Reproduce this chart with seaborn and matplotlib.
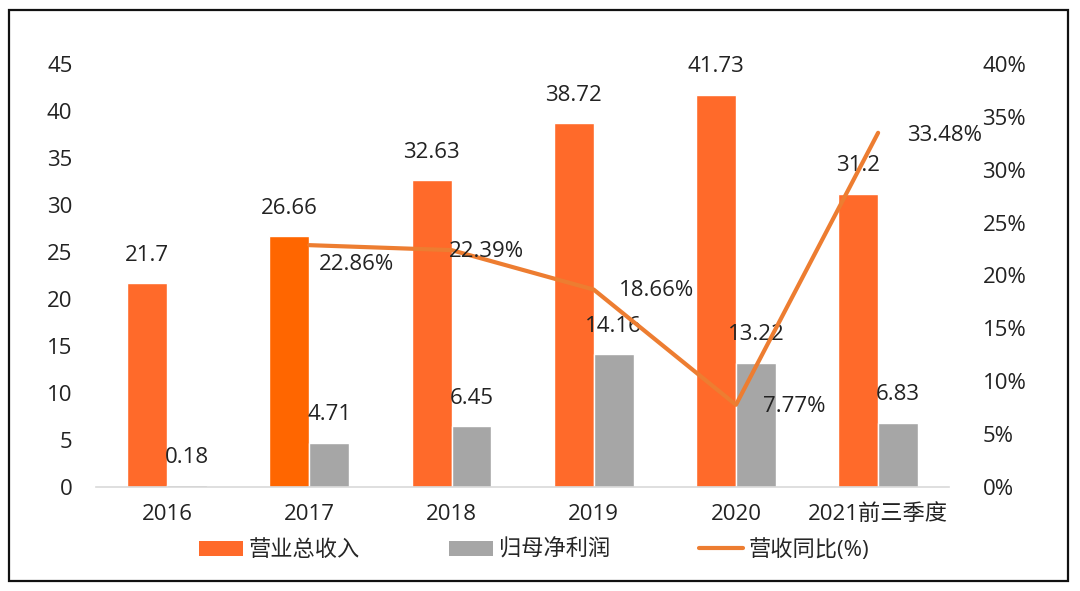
import matplotlib
matplotlib.use("Agg")
import matplotlib.pyplot as plt
import seaborn as sns
import pandas as pd
import numpy as np
from matplotlib.patches import Patch, Rectangle
from matplotlib.lines import Line2D

categories = ["2016", "2017", "2018", "2019", "2020", "2021前三季度"]
revenue = [21.7, 26.66, 32.63, 38.72, 41.73, 31.2]
net_profit = [0.18, 4.71, 6.45, 14.16, 13.22, 6.83]
growth_cats = ["2017", "2018", "2019", "2020", "2021前三季度"]
growth = [22.86, 22.39, 18.66, 7.77, 33.48]
revenue_label = "营业总收入"
profit_label = "归母净利润"
growth_label = "营收同比(%)"
left_ticks = [0, 5, 10, 15, 20, 25, 30, 35, 40, 45]
right_ticks = [0, 5, 10, 15, 20, 25, 30, 35, 40]

sns.set_theme(style="white")
plt.rcParams["font.family"] = ["Open Sans", "Noto Sans CJK SC", "DejaVu Sans"]

C_OR = "#FF6A2A"
C_OR17 = "#FF6600"
C_GR = "#A6A6A6"
C_LN = "#ED7D31"
FS = 16

df = pd.DataFrame({
    "cat": categories * 2,
    "val": revenue + net_profit,
    "series": [revenue_label] * len(categories) + [profit_label] * len(categories),
})

fig = plt.figure(figsize=(10.8, 5.91), dpi=100)
ax = fig.add_axes([0.0889, 0.176, 0.79, 0.716])
sns.barplot(data=df, x="cat", y="val", hue="series", order=categories,
            hue_order=[revenue_label, profit_label],
            palette=[C_OR, C_GR], width=0.56, saturation=1, ax=ax, legend=False)

# 2017 revenue bar in a slightly purer orange
ax.patches[categories.index("2017")].set_facecolor(C_OR17)

ax.set_ylim(0, 45)
ax.set_yticks(left_ticks)
ax.set_xlim(-0.5, len(categories) - 0.5)
ax.set_xlabel("")
ax.set_ylabel("")
for s in ["top", "right", "left"]:
    ax.spines[s].set_visible(False)
ax.spines["bottom"].set_color("#D9D9D9")
ax.spines["bottom"].set_linewidth(1.2)
ax.tick_params(axis="both", length=0, labelsize=FS, colors="#222222")
ax.tick_params(axis="y", pad=17)
ax.tick_params(axis="x", pad=12)

# bar labels
for p in ax.patches:
    h = p.get_height()
    if np.isnan(h):
        continue
    ax.annotate(f"{h:g}", (p.get_x() + p.get_width() / 2, h),
                xytext=(0, 20), textcoords="offset points",
                ha="center", va="center", fontsize=FS, color="#222222")

ax2 = ax.twinx()
gx = [categories.index(c) for c in growth_cats]
sns.lineplot(x=gx, y=growth, ax=ax2, color=C_LN, linewidth=3.0, legend=False)
ax2.set_ylim(0, 40)
ax2.set_yticks(right_ticks)
ax2.set_yticklabels([f"{t}%" for t in right_ticks])
for s in ["top", "right", "left", "bottom"]:
    ax2.spines[s].set_visible(False)
ax2.tick_params(axis="y", length=0, labelsize=FS, colors="#222222", pad=24)
ax2.grid(False)
ax.grid(False)

label_offsets = [(34, -14), (25, -1), (45, -1), (42, -1), (48, -2)]
for x, v, off in zip(gx, growth, label_offsets):
    ax2.annotate(f"{v:.2f}%", (x, v), xytext=off, textcoords="offset points",
                 ha="center", va="center", fontsize=FS, color="#222222")

handles = [Patch(facecolor=C_OR, edgecolor="none"),
           Patch(facecolor=C_GR, edgecolor="none"),
           Line2D([0], [0], color=C_LN, linewidth=3.0)]
fig.legend(handles, [revenue_label, profit_label, growth_label],
           loc="center", bbox_to_anchor=(534 / 1080, 1 - 550 / 591), ncol=3,
           frameon=False, fontsize=FS, handlelength=2.0, handleheight=0.65,
           handletextpad=0.25, columnspacing=4.0)

fig.patches.append(Rectangle((9 / 1080, 10 / 591), 1059 / 1080, 571 / 591,
                             transform=fig.transFigure, fill=False,
                             edgecolor="#111111", linewidth=1.6))

fig.savefig("out.png", dpi=100, facecolor="white")
